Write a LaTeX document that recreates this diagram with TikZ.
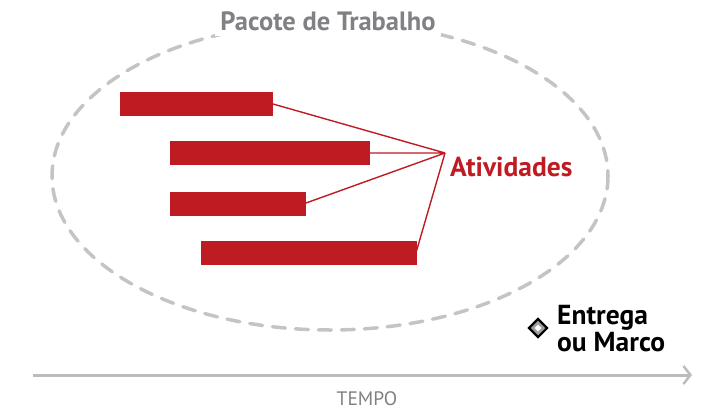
\documentclass[tikz,border=0pt]{standalone}
\usepackage{fontspec}
\setmainfont{PT Sans}
\usetikzlibrary{arrows.meta,shapes.geometric}
\definecolor{barred}{HTML}{BE1B23}
\definecolor{dashgray}{HTML}{C4C4C4}
\definecolor{titlegray}{HTML}{808184}
\definecolor{axisgray}{HTML}{BBBCBE}
\tikzset{
  actbar/.style={fill=barred, draw=none},
  actline/.style={draw=barred, line width=1.4pt},
  lbl/.style={inner sep=0pt, font=\bfseries},
}
\begin{document}
\begin{tikzpicture}[x=1pt,y=-1pt]
\useasboundingbox (0,0) rectangle (727,417);
% work package ellipse
\draw[dashgray, line width=3.5pt, dash pattern=on 13pt off 10pt, line cap=round]
  (330,176) ellipse [x radius=278, y radius=154];
\node[inner sep=5pt, fill=white, text=titlegray, font=\bfseries\fontsize{26.5}{30}\selectfont] (wp) at (328,21) {Pacote de Trabalho};
% bars
\path[actbar] (120,92) rectangle (273,116);
\path[actbar] (170,141) rectangle (370,165);
\path[actbar] (170,192) rectangle (306,216);
\path[actbar] (201,241) rectangle (417,265);
\coordinate (e1) at (273,104);
\coordinate (e2) at (370,153);
\coordinate (e3) at (306,203);
\coordinate (e4) at (416.5,251);
\coordinate (hub) at (445,153);
\draw[actline] (e1) -- (hub) (e2) -- (hub) (e3) -- (hub) (e4) -- (hub);
\node[lbl, anchor=west, text=barred, font=\bfseries\fontsize{27.5}{32}\selectfont] (act) at (450,167) {Atividades};
% milestone
\node[diamond, draw=black, line width=2.2pt, fill=gray!75, minimum size=19pt, inner sep=0pt] (ms) at (538,328) {};
\node[diamond, fill=white, minimum size=7pt, inner sep=0pt] (msin) at (ms.center) {};
\node[lbl, anchor=west, align=left, font=\bfseries\fontsize{27.5}{27}\selectfont] (msl) at (557,329) {Entrega\\ou Marco};
% time axis
\coordinate (ax0) at (33,375);
\coordinate (ax1) at (692,375);
\draw[axisgray, line width=3pt, -{Straight Barb[length=7pt,width=18pt,line width=2.5pt]}] (ax0) -- (ax1);
\node[text=titlegray, font=\fontsize{19.5}{22}\selectfont] (tempo) at (367,399) {TEMPO};
\end{tikzpicture}
\end{document}
